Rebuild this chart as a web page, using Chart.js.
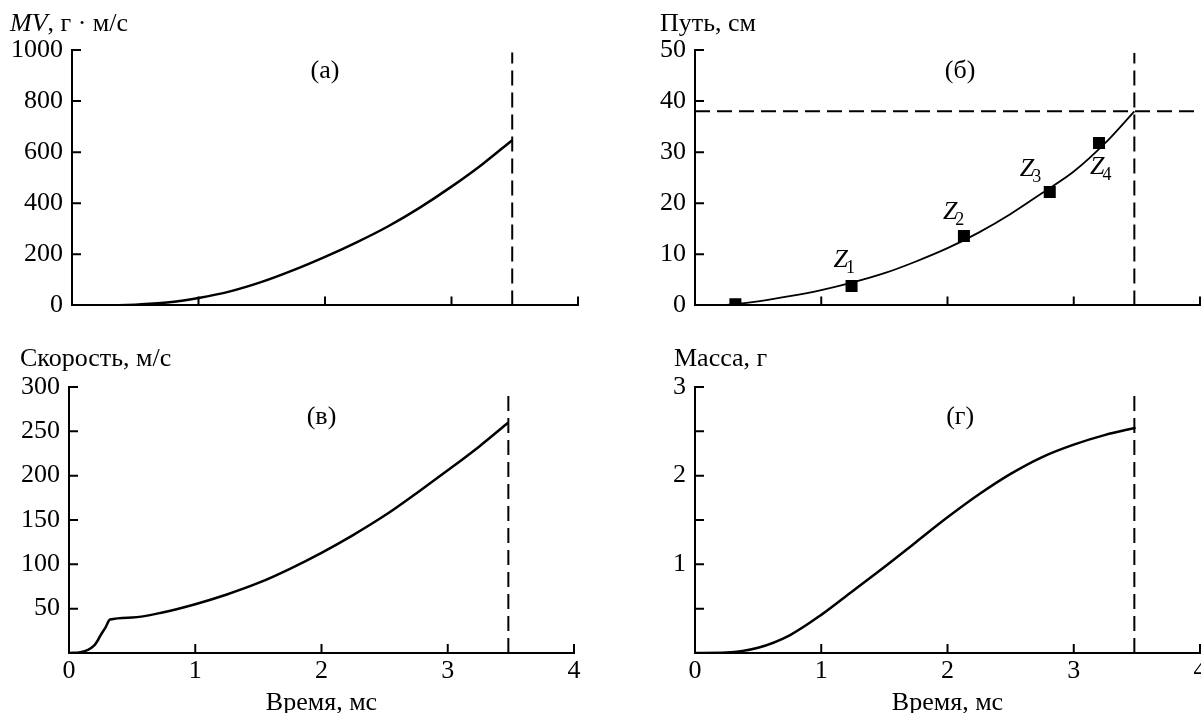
<!DOCTYPE html>
<html lang="ru">
<head>
<meta charset="utf-8">
<script src="https://cdn.jsdelivr.net/npm/chart.js@4.4.1/dist/chart.umd.min.js"></script>
<style>
  html, body { margin: 0; padding: 0; background: #fff; overflow: hidden; }
  body { width: 1201px; height: 713px; position: relative; }
  .panel { position: absolute; }
</style>
</head>
<body>
<div class="panel" style="left:0;top:0;width:620px;height:330px"><canvas id="chartA"></canvas></div>
<div class="panel" style="left:620px;top:0;width:620px;height:330px"><canvas id="chartB"></canvas></div>
<div class="panel" style="left:0;top:330px;width:620px;height:383px"><canvas id="chartC"></canvas></div>
<div class="panel" style="left:620px;top:330px;width:620px;height:383px"><canvas id="chartD"></canvas></div>
<script>
// shot end time, ms
const endTime = 3.48;

// (а) momentum MV, g*m/s
const mvTime   = [0, 0.25, 0.5, 0.75, 1.0, 1.25, 1.5, 1.75, 2.0, 2.25, 2.5, 2.75, 3.0, 3.25, 3.48];
const mvValues = [0, 0,    3,   11,   29,  55,   92,  138,  190, 247,  310, 383,  465, 555,  647];

// (б) path, cm
const pathTime   = [0.1, 0.25, 0.5, 0.75, 1.0, 1.25, 1.5, 1.75, 2.0,  2.25, 2.5,  2.75, 3.0,  3.25, 3.48];
const pathValues = [0,   0.1,  0.8, 1.8,  3.0, 4.5,  6.3, 8.6,  11.2, 14.3, 17.9, 22.0, 26.2, 31.8, 38.0];
const pathLimit = 38;
const zTime   = [0.32, 1.24, 2.13, 2.81, 3.2];
const zValues = [0.2,  3.8,  13.6, 22.2, 31.8];
const zNames  = ['', '1', '2', '3', '4'];

// (в) speed, m/s
const speedTime   = [0, 0.09, 0.15, 0.2, 0.225, 0.25, 0.29, 0.325, 0.5, 0.75, 1.0, 1.25, 1.5, 1.75, 2.0, 2.25, 2.5, 2.75, 3.0, 3.25, 3.48];
const speedValues = [0, 1,    3.5,  8.5, 13.5,  20,   29,   37.7,  40,  46,   55,  66,   79,  95,   113, 133,  155, 180,  206, 233,  260];

// (г) mass, g
const massTime   = [0, 0.25,  0.5,  0.75, 1.0,  1.25, 1.5,  1.75, 2.0,  2.25, 2.5,  2.75, 3.0,  3.25, 3.49];
const massValues = [0, 0.005, 0.06, 0.2,  0.43, 0.7,  0.97, 1.25, 1.53, 1.79, 2.02, 2.21, 2.35, 2.46, 2.54];

const FONT = '"Liberation Serif", "Times New Roman", serif';
const FS = 26;
Chart.defaults.font.family = FONT;
Chart.defaults.font.size = FS;
Chart.defaults.color = '#000';
Chart.defaults.animation = false;

const pts = (xs, ys) => xs.map((x, i) => ({x: x, y: ys[i]}));

function curve(xs, ys, w) {
  return {type: 'line', data: pts(xs, ys), borderColor: '#000', borderWidth: w,
    pointRadius: 0, cubicInterpolationMode: 'monotone', fill: false};
}
function dashed(data) {
  return {type: 'line', data: data, borderColor: '#000', borderWidth: 2,
    borderDash: [15, 7], pointRadius: 0, fill: false};
}

// tick marks pointing into the plot
const inwardTicks = {
  id: 'inwardTicks',
  afterDatasetsDraw(chart) {
    const {ctx, chartArea: a, scales: {x, y}} = chart;
    ctx.save();
    ctx.strokeStyle = '#000';
    ctx.lineWidth = 2;
    ctx.beginPath();
    x.ticks.forEach(t => {
      if (t.value === x.min) return;
      const px = x.getPixelForValue(t.value);
      ctx.moveTo(px, a.bottom); ctx.lineTo(px, a.bottom - 9);
    });
    y.ticks.forEach(t => {
      if (t.value === y.min) return;
      const py = y.getPixelForValue(t.value);
      ctx.moveTo(a.left, py); ctx.lineTo(a.left + 9, py);
    });
    ctx.stroke();
    ctx.restore();
  }
};

function rich(ctx, parts, x, y) {
  parts.forEach(p => {
    ctx.font = p[1] + ' ' + FS + 'px ' + FONT;
    ctx.fillText(p[0], x, y);
    x += ctx.measureText(p[0]).width;
  });
}

// titles, panel letters, extra texts
function notes(title, tx, ty, letter, lx, ly, xTitle, extra) {
  return {
    id: 'notes',
    afterDraw(chart) {
      const {ctx, scales: {x, y}} = chart;
      ctx.save();
      ctx.fillStyle = '#000';
      ctx.textBaseline = 'alphabetic';
      ctx.textAlign = 'left';
      rich(ctx, title, tx, ty);
      ctx.font = FS + 'px ' + FONT;
      ctx.textAlign = 'center';
      ctx.textBaseline = 'middle';
      ctx.fillText(letter, x.getPixelForValue(lx), y.getPixelForValue(ly));
      if (xTitle) {
        ctx.textBaseline = 'alphabetic';
        ctx.fillText('Время, мс', x.getPixelForValue(2), chart.height - 3);
      }
      if (extra) extra(ctx, x, y);
      ctx.restore();
    }
  };
}

function scalesFor(yMin, yMax, yStep, yLabel, yWidth, xLabels, xHeight) {
  return {
    x: {type: 'linear', min: 0, max: 4,
      grid: {display: false, drawTicks: false},
      border: {display: true, color: '#000', width: 2},
      ticks: {display: xLabels, stepSize: 1, padding: 3, maxRotation: 0},
      afterFit: s => { s.height = xHeight; }},
    y: {type: 'linear', min: yMin, max: yMax,
      grid: {display: false, drawTicks: false},
      border: {display: true, color: '#000', width: 2},
      ticks: {stepSize: yStep, padding: 9, callback: yLabel},
      afterFit: s => { s.width = yWidth; }}
  };
}

const baseOpts = (layout, scales) => ({
  responsive: true, maintainAspectRatio: false,
  layout: {padding: layout},
  plugins: {legend: {display: false}, tooltip: {enabled: false}},
  scales: scales
});

// (а)
new Chart(document.getElementById('chartA'), {
  data: {datasets: [
    curve(mvTime, mvValues, 2.5),
    dashed([{x: endTime, y: 0}, {x: endTime, y: 990}])
  ]},
  options: baseOpts({left: 0, right: 42, top: 50, bottom: 0},
    scalesFor(0, 1000, 100, v => v % 200 === 0 ? v : '', 72, false, 14)),
  plugins: [inwardTicks, notes([['MV', 'italic'], [', г · м/с', '']], 10, 31, '(а)', 2.0, 917, false)]
});

// (б)
const zLabelOffsets = [null, [-18, -19], [-21, -17], [-30, -16], [-9, 31]];
new Chart(document.getElementById('chartB'), {
  data: {datasets: [
    curve(pathTime, pathValues, 1.8),
    {type: 'scatter', data: pts(zTime, zValues), pointStyle: 'rect', pointRadius: 8.5,
      backgroundColor: '#000', borderColor: '#000', borderWidth: 0},
    dashed([{x: endTime, y: 0}, {x: endTime, y: 49.4}]),
    dashed([{x: 0, y: pathLimit}, {x: 4, y: pathLimit}])
  ]},
  options: baseOpts({left: 0, right: 40, top: 50, bottom: 0},
    scalesFor(0, 50, 10, v => v, 75, false, 14)),
  plugins: [inwardTicks, notes([['Путь, см', '']], 40, 31, '(б)', 2.1, 45.9, false,
    (ctx, x, y) => {
      ctx.textAlign = 'left';
      ctx.textBaseline = 'alphabetic';
      zNames.forEach((n, i) => {
        if (!n) return;
        const px = x.getPixelForValue(zTime[i]) + zLabelOffsets[i][0];
        const py = y.getPixelForValue(zValues[i]) + zLabelOffsets[i][1];
        ctx.font = 'italic ' + FS + 'px ' + FONT;
        ctx.fillText('Z', px, py);
        const w = ctx.measureText('Z').width;
        ctx.font = '18px ' + FONT;
        ctx.fillText(n, px + w - 2, py + 6);
      });
    })]
});

// (в)
new Chart(document.getElementById('chartC'), {
  data: {datasets: [
    curve(speedTime, speedValues, 2.5),
    dashed([{x: endTime, y: 0}, {x: endTime, y: 295}])
  ]},
  options: baseOpts({left: 0, right: 46, top: 57, bottom: 0},
    scalesFor(0, 300, 50, v => v > 0 ? v : '', 69, true, 60)),
  plugins: [inwardTicks, notes([['Скорость, м/с', '']], 20, 36, '(в)', 2.0, 266, true)]
});

// (г)
new Chart(document.getElementById('chartD'), {
  data: {datasets: [
    curve(massTime, massValues, 2.5),
    dashed([{x: endTime, y: 0}, {x: endTime, y: 2.95}])
  ]},
  options: baseOpts({left: 0, right: 40, top: 57, bottom: 0},
    scalesFor(0, 3, 0.5, v => (v > 0 && Number.isInteger(v)) ? v : '', 75, true, 60)),
  plugins: [inwardTicks, notes([['Масса, г', '']], 54, 36, '(г)', 2.1, 2.66, true)]
});
</script>
</body>
</html>
